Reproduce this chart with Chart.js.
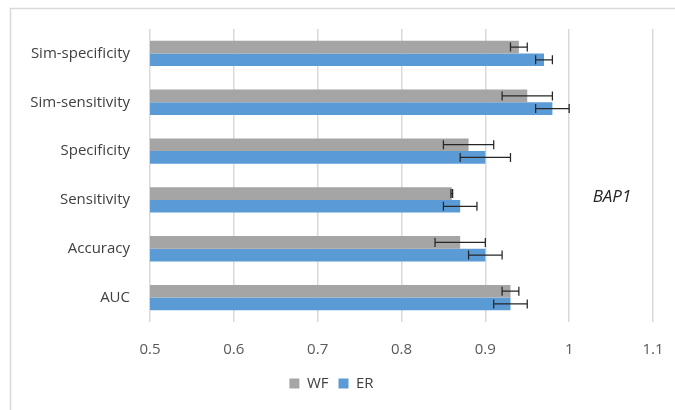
<!DOCTYPE html>
<html>
<head>
<meta charset="utf-8">
<script src="https://cdn.jsdelivr.net/npm/chart.js@4/dist/chart.umd.min.js"></script>
<style>
  html, body { margin: 0; padding: 0; background: #fff; }
  #wrap { width: 675px; height: 410px; position: relative; }
</style>
</head>
<body>
<div id="wrap"><canvas id="c" width="675" height="410"></canvas></div>
<script>
// Metrics (top to bottom)
const categories = ['Sim-specificity', 'Sim-sensitivity', 'Specificity', 'Sensitivity', 'Accuracy', 'AUC'];
// Mean values per method
const wfValues = [0.94, 0.95, 0.88, 0.86, 0.87, 0.93];
const erValues = [0.97, 0.98, 0.90, 0.87, 0.90, 0.93];
// Symmetric error (± around the mean)
const wfErrors = [0.01, 0.03, 0.03, 0.001, 0.03, 0.01];
const erErrors = [0.01, 0.02, 0.03, 0.02, 0.02, 0.02];
// X axis range
const xMin = 0.5, xMax = 1.1, xStep = 0.1;
const geneLabel = 'BAP1';

const FONT = "'Open Sans', sans-serif";

const errorBarPlugin = {
  id: 'errorBars',
  afterDatasetsDraw(chart) {
    const ctx = chart.ctx;
    const xs = chart.scales.x;
    ctx.save();
    ctx.strokeStyle = '#262626';
    ctx.lineWidth = 1.25;
    chart.data.datasets.forEach((ds, di) => {
      const meta = chart.getDatasetMeta(di);
      if (meta.hidden) return;
      meta.data.forEach((bar, i) => {
        const v = ds.data[i], e = ds.errors[i];
        const x1 = xs.getPixelForValue(v - e);
        const x2 = xs.getPixelForValue(v + e);
        const y = bar.y;
        const h = 4.5;
        ctx.beginPath();
        ctx.moveTo(x1, y); ctx.lineTo(x2, y);
        ctx.moveTo(x1, y - h); ctx.lineTo(x1, y + h);
        ctx.moveTo(x2, y - h); ctx.lineTo(x2, y + h);
        ctx.stroke();
      });
    });
    ctx.restore();
  }
};

const framePlugin = {
  id: 'frame',
  afterDraw(chart) {
    const ctx = chart.ctx;
    const area = chart.chartArea;
    ctx.save();
    // outer frame
    ctx.strokeStyle = '#d9d9d9';
    ctx.lineWidth = 1.5;
    ctx.beginPath();
    ctx.moveTo(10.5, chart.height + 2);
    ctx.lineTo(10.5, 8.5);
    ctx.lineTo(chart.width + 2, 8.5);
    ctx.stroke();
    // gene label
    ctx.fillStyle = '#262626';
    ctx.font = "italic 17px " + FONT;
    ctx.textAlign = 'center';
    ctx.textBaseline = 'middle';
    ctx.fillText(geneLabel, 612, (area.top + area.bottom) / 2 + 22);
    ctx.restore();
  }
};

new Chart(document.getElementById('c'), {
  type: 'bar',
  data: {
    labels: categories,
    datasets: [
      { label: 'WF', data: wfValues, errors: wfErrors, backgroundColor: '#A5A5A5', barPercentage: 1.0, categoryPercentage: 0.52 },
      { label: 'ER', data: erValues, errors: erErrors, backgroundColor: '#5B9BD5', barPercentage: 1.0, categoryPercentage: 0.52 }
    ]
  },
  options: {
    indexAxis: 'y',
    responsive: false,
    animation: false,
    devicePixelRatio: 1,
    layout: { padding: { left: 10, right: 22, top: 29, bottom: 9 } },
    scales: {
      x: {
        min: xMin, max: xMax,
        ticks: {
          stepSize: xStep, color: '#595959', font: { family: FONT, size: 15 }, padding: 19,
          callback: v => String(Math.round(v * 10) / 10)
        },
        grid: { color: '#d9d9d9', lineWidth: 1.5, drawTicks: false },
        border: { display: false },
        afterFit(s) { s.height = 44; s.paddingLeft = 0; s.paddingRight = 0; }
      },
      y: {
        ticks: { color: '#404040', font: { family: FONT, size: 15 }, padding: 12 },
        grid: { display: false },
        border: { display: false },
        afterFit(s) { s.width = 140; }
      }
    },
    plugins: {
      legend: {
        position: 'bottom',
        labels: { color: '#404040', font: { family: FONT, size: 15 }, boxWidth: 10, boxHeight: 10, padding: 10 }
      },
      tooltip: { enabled: false }
    }
  },
  plugins: [errorBarPlugin, framePlugin]
});
</script>
</body>
</html>
